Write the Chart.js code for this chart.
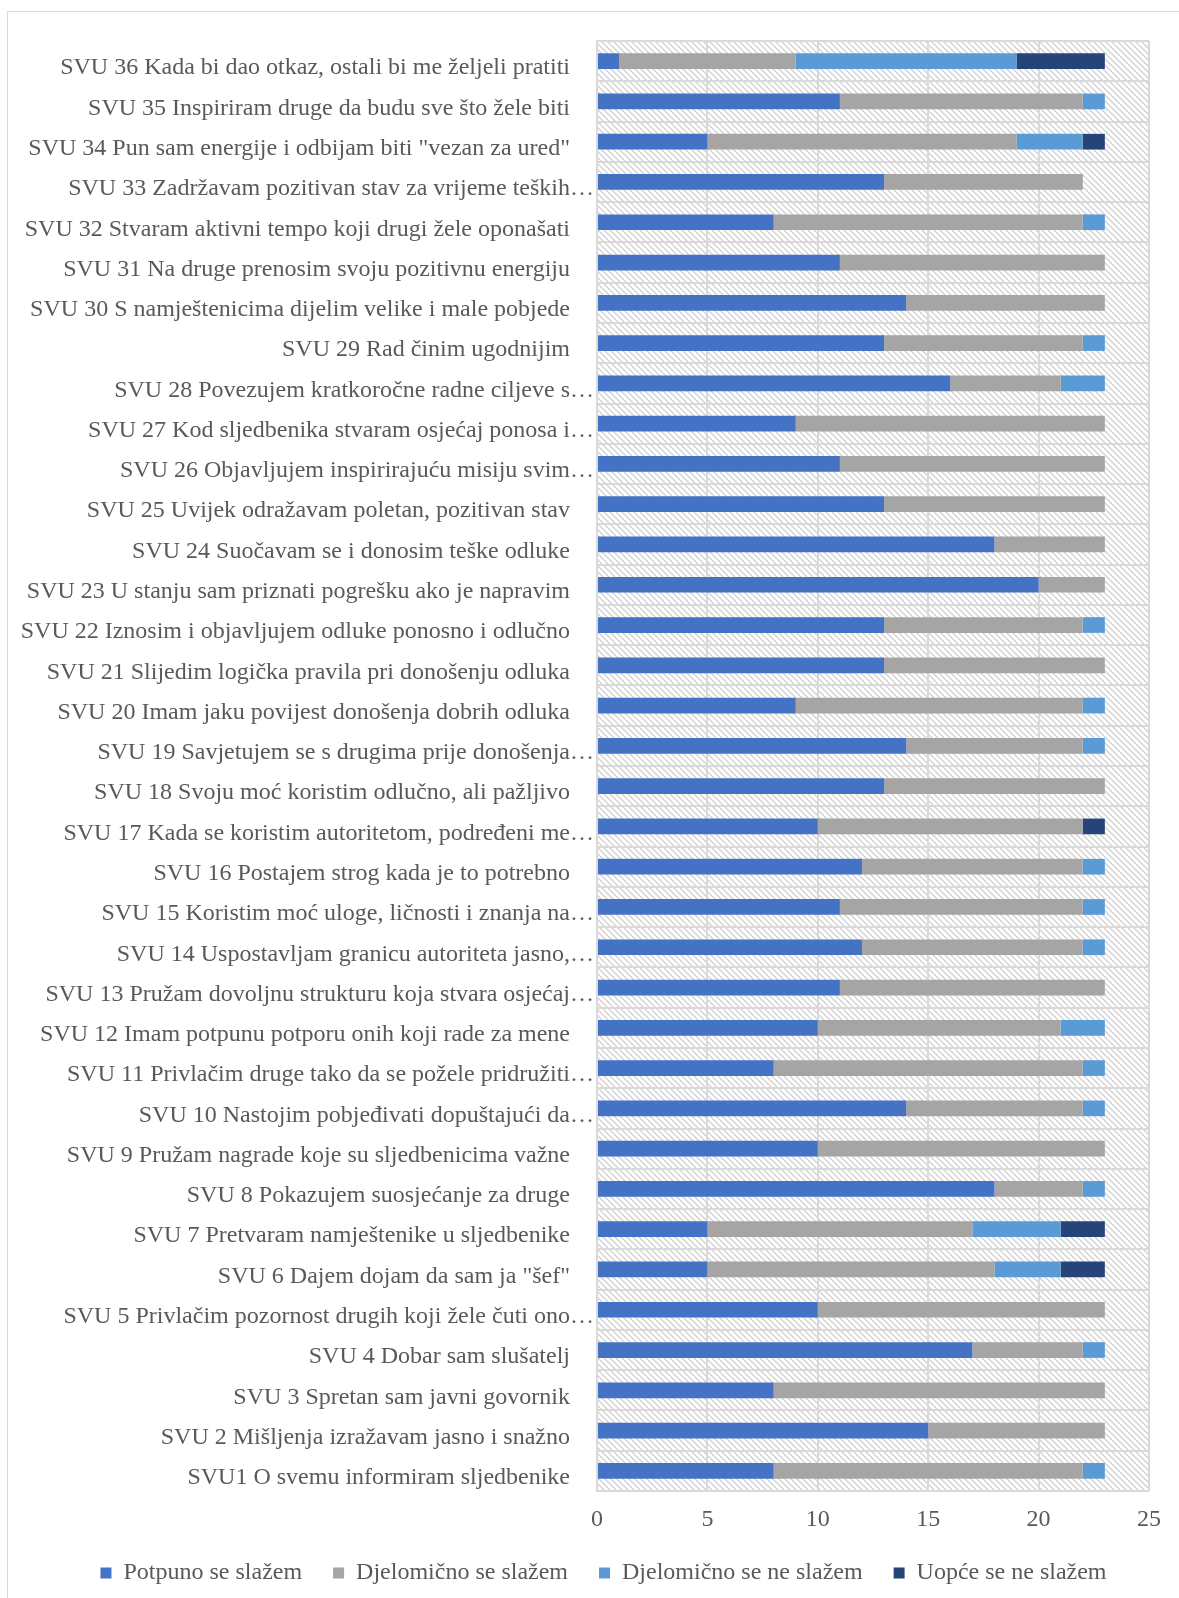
<!DOCTYPE html>
<html>
<head>
<meta charset="utf-8">
<script src="https://cdn.jsdelivr.net/npm/chart.js@4.4.1/dist/chart.umd.min.js"></script>
<style>
  body { margin: 0; background: #fff; overflow: hidden; }
  #frame { position: absolute; left: 7px; top: 11px; width: 1200px; height: 1620px; border: 1px solid #d9d9d9; }
  #wrap { position: absolute; left: 8px; top: 12px; width: 1171px; height: 1586px; }
</style>
</head>
<body>
<div id="frame"></div>
<div id="wrap"><canvas id="chart"></canvas></div>
<script>
// categories, top to bottom
const labels = [
    'SVU 36 Kada bi dao otkaz, ostali bi me željeli pratiti',
    'SVU 35 Inspiriram druge da budu sve što žele biti',
    'SVU 34 Pun sam energije i odbijam biti "vezan za ured"',
    'SVU 33 Zadržavam pozitivan stav za vrijeme teških…',
    'SVU 32 Stvaram aktivni tempo koji drugi žele oponašati',
    'SVU 31 Na druge prenosim svoju pozitivnu energiju',
    'SVU 30 S namještenicima dijelim velike i male pobjede',
    'SVU 29 Rad činim ugodnijim',
    'SVU 28 Povezujem kratkoročne radne ciljeve s…',
    'SVU 27 Kod sljedbenika stvaram osjećaj ponosa i…',
    'SVU 26 Objavljujem inspirirajuću misiju svim…',
    'SVU 25 Uvijek odražavam poletan, pozitivan stav',
    'SVU 24 Suočavam se i donosim teške odluke',
    'SVU 23 U stanju sam priznati pogrešku ako je napravim',
    'SVU 22 Iznosim i objavljujem odluke ponosno i odlučno',
    'SVU 21 Slijedim logička pravila pri donošenju odluka',
    'SVU 20 Imam jaku povijest donošenja dobrih odluka',
    'SVU 19 Savjetujem se s drugima prije donošenja…',
    'SVU 18 Svoju moć koristim odlučno, ali pažljivo',
    'SVU 17 Kada se koristim autoritetom, podređeni me…',
    'SVU 16 Postajem strog kada je to potrebno',
    'SVU 15 Koristim moć uloge, ličnosti i znanja na…',
    'SVU 14 Uspostavljam granicu autoriteta jasno,…',
    'SVU 13 Pružam dovoljnu strukturu koja stvara osjećaj…',
    'SVU 12 Imam potpunu potporu onih koji rade za mene',
    'SVU 11 Privlačim druge tako da se požele pridružiti…',
    'SVU 10 Nastojim pobjeđivati dopuštajući da…',
    'SVU 9 Pružam nagrade koje su sljedbenicima važne',
    'SVU 8 Pokazujem suosjećanje za druge',
    'SVU 7 Pretvaram namještenike u sljedbenike',
    'SVU 6 Dajem dojam da sam ja "šef"',
    'SVU 5 Privlačim pozornost drugih koji žele čuti ono…',
    'SVU 4 Dobar sam slušatelj',
    'SVU 3 Spretan sam javni govornik',
    'SVU 2 Mišljenja izražavam jasno i snažno',
    'SVU1 O svemu informiram sljedbenike'
];

const seriesNames = ['Potpuno se slažem', 'Djelomično se slažem', 'Djelomično se ne slažem', 'Uopće se ne slažem'];

const potpuno     = [1, 11, 5, 13, 8, 11, 14, 13, 16, 9, 11, 13, 18, 20, 13, 13, 9, 14, 13, 10, 12, 11, 12, 11, 10, 8, 14, 10, 18, 5, 5, 10, 17, 8, 15, 8];
const djelomicno  = [8, 11, 14, 9, 14, 12, 9, 9, 5, 14, 12, 10, 5, 3, 9, 10, 13, 8, 10, 12, 10, 11, 10, 12, 11, 14, 8, 13, 4, 12, 13, 13, 5, 15, 8, 14];
const djelomNe    = [10, 1, 3, 0, 1, 0, 0, 1, 2, 0, 0, 0, 0, 0, 1, 0, 1, 1, 0, 0, 1, 1, 1, 0, 2, 1, 1, 0, 1, 4, 3, 0, 1, 0, 0, 1];
const uopceNe     = [4, 0, 1, 0, 0, 0, 0, 0, 0, 0, 0, 0, 0, 0, 0, 0, 0, 0, 0, 1, 0, 0, 0, 0, 0, 0, 0, 0, 0, 2, 2, 0, 0, 0, 0, 0];

const xTicks = [0, 5, 10, 15, 20, 25];

const colors = ['#4472C4', '#A5A5A5', '#5B9BD5', '#264478'];
const GRID = '#d9d9d9';
const TEXT = '#595959';

Chart.defaults.font.family = "'Liberation Serif', 'Times New Roman', serif";
Chart.defaults.color = TEXT;

// diagonal hatch for the plot area
function makeHatch(ctx) {
    const c = document.createElement('canvas');
    c.width = 6; c.height = 6;
    const g = c.getContext('2d');
    g.fillStyle = '#fff';
    g.fillRect(0, 0, 6, 6);
    g.strokeStyle = '#d0d0d0';
    g.lineWidth = 1.3;
    g.beginPath();
    g.moveTo(-1, -1); g.lineTo(7, 7);
    g.moveTo(-1, 5); g.lineTo(1, 7);
    g.moveTo(5, -1); g.lineTo(7, 1);
    g.stroke();
    return ctx.createPattern(c, 'repeat');
}

const hatchBg = {
    id: 'hatchBg',
    beforeDraw(chart) {
        const { ctx, chartArea: a } = chart;
        ctx.save();
        ctx.fillStyle = makeHatch(ctx);
        ctx.fillRect(a.left, a.top, a.right - a.left, a.bottom - a.top);
        ctx.restore();
        // legend sits a bit right of the canvas centre in the original
        if (chart.legend) { chart.legend.left += 25; chart.legend.right += 25; }
    }
};

const allData = [potpuno, djelomicno, djelomNe, uopceNe];

new Chart(document.getElementById('chart'), {
    type: 'bar',
    data: {
        labels: labels,
        datasets: seriesNames.map((name, i) => ({
            label: name,
            data: allData[i],
            backgroundColor: colors[i],
            borderWidth: 0,
            barPercentage: 0.39,
            categoryPercentage: 1
        }))
    },
    options: {
        indexAxis: 'y',
        responsive: true,
        maintainAspectRatio: false,
        animation: false,
        layout: { padding: { top: 29, right: 30, left: 0, bottom: 3 } },
        scales: {
            x: {
                stacked: true,
                min: 0,
                max: 25,
                afterBuildTicks: (scale) => { scale.ticks = xTicks.map(v => ({ value: v })); },
                afterFit: (scale) => { scale.height = 39; },
                grid: { color: GRID, lineWidth: 2, drawTicks: false },
                border: { display: false },
                ticks: { padding: 14, font: { size: 24 }, color: TEXT }
            },
            y: {
                stacked: true,
                afterFit: (scale) => { scale.width = 589; },
                grid: { color: GRID, lineWidth: 2, drawTicks: false, offset: true },
                border: { color: GRID, width: 2 },
                ticks: {
                    padding: 3,
                    labelOffset: 7,
                    autoSkip: false,
                    font: { size: 24 },
                    color: TEXT,
                    callback: function (v, i) {
                        const t = labels[i];
                        return t.endsWith('…') ? t : t + '    ';
                    }
                }
            }
        },
        plugins: {
            legend: {
                position: 'bottom',
                labels: { boxWidth: 11, boxHeight: 11, padding: 31, font: { size: 24 }, color: TEXT }
            },
            tooltip: { enabled: false }
        }
    },
    plugins: [hatchBg]
});
</script>
</body>
</html>
